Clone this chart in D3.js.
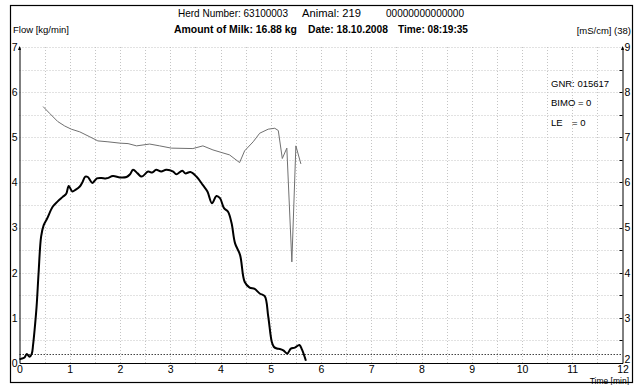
<!DOCTYPE html>
<html>
<head>
<meta charset="utf-8">
<script src="https://cdn.jsdelivr.net/npm/d3@7"></script>
<style>
  html, body { margin: 0; padding: 0; background: #fff; }
  svg { display: block; font-family: "Liberation Sans", Arial, sans-serif; }
</style>
</head>
<body>
<svg id="chart" width="636" height="385"></svg>
<script>
// Milking flow curve (kg/min) against time, with conductivity (mS/cm) on the right axis
const flowTimes = [0, 0.05, 0.1, 0.145, 0.2, 0.245, 0.27, 0.3, 0.34, 0.38, 0.43, 0.48, 0.55, 0.66, 0.76, 0.86, 0.93, 0.98, 1.05, 1.12, 1.2, 1.25, 1.31, 1.36, 1.45, 1.54, 1.63, 1.73, 1.86, 2.0, 2.13, 2.2, 2.26, 2.35, 2.43, 2.56, 2.64, 2.72, 2.82, 2.92, 3.06, 3.12, 3.24, 3.30, 3.40, 3.52, 3.65, 3.74, 3.83, 3.92, 3.99, 4.07, 4.15, 4.22, 4.29, 4.39, 4.48, 4.58, 4.68, 4.78, 4.88, 4.95, 5.02, 5.06, 5.12, 5.18, 5.25, 5.33, 5.40, 5.48, 5.57, 5.62, 5.70];
const flowValues = [0.08, 0.1, 0.12, 0.2, 0.14, 0.21, 0.4, 0.73, 1.25, 2.0, 2.8, 3.05, 3.2, 3.46, 3.58, 3.68, 3.75, 3.92, 3.8, 3.84, 3.91, 4.0, 4.13, 4.12, 3.99, 4.09, 4.1, 4.09, 4.14, 4.11, 4.12, 4.18, 4.28, 4.2, 4.13, 4.24, 4.22, 4.28, 4.24, 4.28, 4.24, 4.18, 4.26, 4.2, 4.23, 4.13, 3.94, 3.8, 3.54, 3.7, 3.65, 3.43, 3.35, 3.1, 2.65, 2.39, 1.8, 1.67, 1.64, 1.54, 1.48, 1.03, 0.47, 0.36, 0.32, 0.31, 0.28, 0.21, 0.32, 0.34, 0.40, 0.3, 0.05];

const condTimes = [0.47, 0.6, 0.76, 0.9, 1.03, 1.2, 1.4, 1.56, 1.76, 2.0, 2.16, 2.33, 2.59, 2.79, 3.02, 3.45, 3.65, 3.85, 4.18, 4.38, 4.48, 4.65, 4.78, 4.95, 5.08, 5.15, 5.23, 5.32, 5.42, 5.5, 5.6];
const condValues = [7.68, 7.53, 7.35, 7.25, 7.18, 7.12, 7.01, 6.92, 6.90, 6.87, 6.86, 6.81, 6.85, 6.81, 6.76, 6.75, 6.81, 6.72, 6.61, 6.44, 6.70, 6.90, 7.09, 7.18, 7.20, 7.15, 6.53, 6.76, 4.24, 6.81, 6.41];

const timeTicks = [0, 1, 2, 3, 4, 5, 6, 7, 8, 9, 10, 11, 12];
const flowTicks = [0, 1, 2, 3, 4, 5, 6, 7];
const condTicks = [2, 3, 4, 5, 6, 7, 8, 9];
const flowThreshold = 0.2;

const headerLine1 = ["Herd Number: 63100003", "Animal: 219", "00000000000000"];
const headerLine2 = ["Amount of Milk: 16.88 kg", "Date: 18.10.2008", "Time: 08:19:35"];
const infoLines = ["GNR: 015617", "BIMO = 0", "LE"];

const svg = d3.select("#chart");

const x = d3.scaleLinear().domain([0, 12]).range([19.5, 622.5]);
const yFlow = d3.scaleLinear().domain([0, 7]).range([363, 47]);
const yCond = d3.scaleLinear().domain([2, 9]).range([363, 47]);

// outer frame
svg.append("rect").attr("x", 10.5).attr("y", 5.5).attr("width", 622).attr("height", 377)
  .attr("fill", "none").attr("stroke", "#000").attr("stroke-width", 1.2);

// dotted grid every half unit
const gridX = d3.range(0.5, 12, 0.5);
const gridY = d3.range(0.5, 7.01, 0.5);
const grid = svg.append("g").attr("stroke", "#c4c4c4").attr("stroke-width", 1).attr("stroke-dasharray", "1,2");
grid.selectAll("line.v").data(gridX).join("line").attr("class", "v")
  .attr("x1", d => Math.round(x(d)) + 0.5).attr("x2", d => Math.round(x(d)) + 0.5)
  .attr("y1", yFlow(7)).attr("y2", yFlow(0));
grid.selectAll("line.h").data(gridY).join("line").attr("class", "h")
  .attr("x1", x(0)).attr("x2", x(12))
  .attr("y1", d => Math.round(yFlow(d)) + 0.5).attr("y2", d => Math.round(yFlow(d)) + 0.5);

// flow threshold
svg.append("line")
  .attr("x1", x(0)).attr("x2", x(12))
  .attr("y1", Math.round(yFlow(flowThreshold)) + 0.5).attr("y2", Math.round(yFlow(flowThreshold)) + 0.5)
  .attr("stroke", "#444").attr("stroke-width", 1).attr("stroke-dasharray", "1.5,1.5");

// axes
const axisFont = g => g.selectAll("text").attr("font-size", 10.5).attr("fill", "#000")
  .attr("font-family", "'Liberation Sans', Arial, sans-serif");

const xAxis = svg.append("g").attr("transform", `translate(0,${yFlow(0)})`)
  .call(d3.axisBottom(x).tickValues(timeTicks).tickSize(0).tickPadding(3).tickFormat(d3.format("d")));
xAxis.call(axisFont);
xAxis.select(".domain").attr("stroke", "#000");

const yAxisL = svg.append("g").attr("transform", `translate(${x(0)},0)`)
  .call(d3.axisLeft(yFlow).tickValues(flowTicks).tickSize(0).tickPadding(2).tickFormat(d3.format("d")));
yAxisL.call(axisFont);
yAxisL.select(".domain").attr("stroke", "#000");

const yAxisR = svg.append("g").attr("transform", `translate(${x(12)},0)`)
  .call(d3.axisRight(yCond).tickValues(condTicks).tickSize(0).tickPadding(2).tickFormat(d3.format("d")));
yAxisR.call(axisFont);
yAxisR.select(".domain").attr("stroke", "#000");
// the lowest right label sits just above the time axis labels
yAxisR.selectAll(".tick text").filter(d => d === 2).attr("dy", "-0.05em");

// small half-unit ticks on the right axis
svg.append("g").selectAll("line").data(d3.range(2.5, 9, 0.5)).join("line")
  .attr("x1", x(12) - 3).attr("x2", x(12))
  .attr("y1", d => Math.round(yCond(d)) + 0.5).attr("y2", d => Math.round(yCond(d)) + 0.5)
  .attr("stroke", "#000");

// arrowheads at the top of the vertical axes
[x(0), x(12)].forEach(ax => {
  svg.append("path")
    .attr("d", `M${ax},${yFlow(7) - 1} l-1.5,4 l3,0 z`)
    .attr("fill", "#000");
});

// conductivity line (thin, grey)
const condLine = d3.line().x(d => x(d[0])).y(d => yCond(d[1]));
svg.append("path")
  .datum(d3.zip(condTimes, condValues))
  .attr("d", condLine)
  .attr("fill", "none").attr("stroke", "#707070").attr("stroke-width", 1);

// flow line (thick, black)
const flowLine = d3.line().x(d => x(d[0])).y(d => yFlow(d[1])).curve(d3.curveCatmullRom.alpha(0.5));
svg.append("path")
  .datum(d3.zip(flowTimes, flowValues))
  .attr("d", flowLine)
  .attr("fill", "none").attr("stroke", "#000").attr("stroke-width", 2).attr("stroke-linejoin", "round");

// header
const h1x = [178, 302, 386];
const h1w = [110, 59, 78];
const h2x = [174, 308, 398];
const h2w = [123, 80, 70];
svg.append("g").selectAll("text").data(headerLine1).join("text")
  .attr("x", (d, i) => h1x[i]).attr("y", 17)
  .attr("font-size", 11.5)
  .attr("textLength", (d, i) => h1w[i]).attr("lengthAdjust", "spacingAndGlyphs")
  .text(d => d);
svg.append("g").selectAll("text").data(headerLine2).join("text")
  .attr("x", (d, i) => h2x[i]).attr("y", 33)
  .attr("font-size", 11.5).attr("font-weight", "bold")
  .attr("textLength", (d, i) => h2w[i]).attr("lengthAdjust", "spacingAndGlyphs")
  .text(d => d);

// axis titles
svg.append("text").attr("x", 13).attr("y", 33).attr("font-size", 9.5).text("Flow [kg/min]");
svg.append("text").attr("x", 631).attr("y", 34).attr("font-size", 9.5).attr("text-anchor", "end").text("[mS/cm] (38)");
svg.append("text").attr("x", 629).attr("y", 383.5).attr("font-size", 8.5).attr("text-anchor", "end").text("Time [min]");

// info block
const infoY = [87, 106, 126];
svg.append("g").selectAll("text").data(infoLines).join("text")
  .attr("x", 551).attr("y", (d, i) => infoY[i]).attr("font-size", 9.5).text(d => d);
svg.append("text").attr("x", 572).attr("y", infoY[2]).attr("font-size", 9.5).text("= 0");
</script>
</body>
</html>
